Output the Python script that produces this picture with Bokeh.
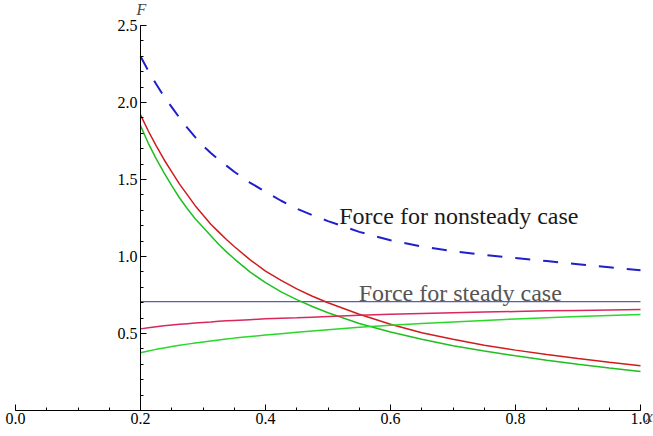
from bokeh.plotting import figure
from bokeh.models import Range1d, FixedTicker, Label, NumeralTickFormatter
from bokeh.embed import file_html
from bokeh.resources import INLINE

# common sample positions along x
x_vals = [0.2, 0.2125, 0.225, 0.2375, 0.25, 0.2625, 0.275, 0.2875, 0.3, 0.3125, 0.325, 0.3375,
          0.35, 0.375, 0.4, 0.425, 0.45, 0.475, 0.5, 0.55, 0.6, 0.65, 0.7, 0.75, 0.8, 0.85,
          0.9, 0.95, 1.0]

# Force for nonsteady case (dashed blue)
f_nonsteady = [2.30, 2.205, 2.12, 2.04, 1.97, 1.90, 1.835, 1.775, 1.72, 1.672, 1.63, 1.59,
               1.55, 1.48, 1.42, 1.362, 1.31, 1.268, 1.23, 1.16, 1.105, 1.065, 1.035, 1.01,
               0.99, 0.97, 0.95, 0.93, 0.91]

# Force for steady case (flat line)
x_steady = [0.2, 1.0]
f_steady = [0.707, 0.707]

# decreasing curves
f_red_dec = [1.92, 1.815, 1.72, 1.63, 1.55, 1.47, 1.40, 1.33, 1.27, 1.21, 1.16, 1.11,
             1.065, 0.98, 0.905, 0.845, 0.79, 0.742, 0.70, 0.625, 0.56, 0.505, 0.462, 0.424,
             0.392, 0.363, 0.337, 0.313, 0.29]
f_green_dec = [1.85, 1.735, 1.635, 1.545, 1.46, 1.38, 1.31, 1.245, 1.19, 1.135, 1.08, 1.03,
               0.985, 0.90, 0.83, 0.77, 0.72, 0.675, 0.635, 0.565, 0.51, 0.462, 0.421, 0.386,
               0.355, 0.327, 0.30, 0.276, 0.253]

# increasing curves
f_pink_inc = [0.53, 0.537, 0.544, 0.55, 0.555, 0.56, 0.564, 0.568, 0.572, 0.575, 0.579, 0.582,
              0.585, 0.59, 0.595, 0.599, 0.602, 0.606, 0.61, 0.618, 0.625, 0.63, 0.635, 0.639,
              0.643, 0.647, 0.65, 0.653, 0.656]
f_green_inc = [0.375, 0.387, 0.397, 0.406, 0.415, 0.423, 0.431, 0.438, 0.445, 0.452, 0.458, 0.464,
               0.47, 0.48, 0.49, 0.499, 0.508, 0.517, 0.525, 0.54, 0.553, 0.565, 0.575, 0.585,
               0.594, 0.602, 0.61, 0.617, 0.623]

x_major = [0.0, 0.2, 0.4, 0.6, 0.8, 1.0]
x_minor = [i * 0.05 for i in range(21)]
y_major = [0.5, 1.0, 1.5, 2.0, 2.5]
y_minor = [i * 0.1 for i in range(1, 26)]

W, H = 653, 436
X0, XS = 15, 625      # pixel of x=0, pixels per unit
Y0, YS = 410, 154     # pixel of y=0, pixels per unit
p = figure(width=W, height=H, output_backend="svg", toolbar_location=None,
           x_range=Range1d(-X0 / XS, (W - X0) / XS),
           y_range=Range1d((Y0 - H) / YS, Y0 / YS),
           min_border_left=0, min_border_right=0, min_border_top=0, min_border_bottom=0)
p.outline_line_color = None
p.grid.visible = False
p.background_fill_color = "white"

FONT = "Liberation Serif"

for ax in (p.xaxis[0], p.yaxis[0]):
    ax.axis_line_color = "black"
    ax.axis_line_width = 1
    ax.major_tick_line_color = "black"
    ax.minor_tick_line_color = "black"
    ax.major_tick_out = 0
    ax.major_tick_in = 6
    ax.minor_tick_out = 0
    ax.minor_tick_in = 3
    ax.major_label_text_font = FONT
    ax.major_label_text_font_size = "16px"
    ax.major_label_text_color = "black"
    ax.formatter = NumeralTickFormatter(format="0.0")

p.xaxis[0].fixed_location = 0
p.yaxis[0].fixed_location = 0.2
p.xaxis[0].bounds = (0.0, 1.0)
p.yaxis[0].bounds = (0.0, 2.5)
p.xaxis[0].ticker = FixedTicker(ticks=x_major, minor_ticks=x_minor)
p.yaxis[0].ticker = FixedTicker(ticks=y_major, minor_ticks=y_minor)
p.xaxis[0].major_label_standoff = 2
p.yaxis[0].major_label_standoff = 3

p.line(x_vals, f_nonsteady, line_color="#1f1fcc", line_width=2, line_dash="15 13")
p.line(x_steady, f_steady, line_color="#5c5caa", line_width=1.3)
p.line(x_vals, f_red_dec, line_color="#d01c1c", line_width=1.5)
p.line(x_vals, f_green_dec, line_color="#1fbf1f", line_width=1.5)
p.line(x_vals, f_pink_inc, line_color="#d8285c", line_width=1.5)
p.line(x_vals, f_green_inc, line_color="#2ad82a", line_width=1.5)

p.add_layout(Label(x=0.518, y=1.26, text="Force for nonsteady case", text_font=FONT,
                   text_font_size="24px", text_color="#1a1a1a", text_baseline="alphabetic"))
p.add_layout(Label(x=0.549, y=0.76, text="Force for steady case", text_font=FONT,
                   text_font_size="24px", text_color="#555555", text_baseline="alphabetic"))
p.add_layout(Label(x=0.2, y=2.5, text="F", text_font=FONT, text_font_style="italic",
                   text_font_size="16px", text_align="center", text_baseline="bottom",
                   x_offset=1, y_offset=8))
p.add_layout(Label(x=1.0, y=0.0, text="x", text_font=FONT, text_font_style="italic",
                   text_font_size="16px", text_align="left", text_baseline="alphabetic",
                   x_offset=5, y_offset=-6))

open("out.html", "w").write(file_html(p, INLINE))
